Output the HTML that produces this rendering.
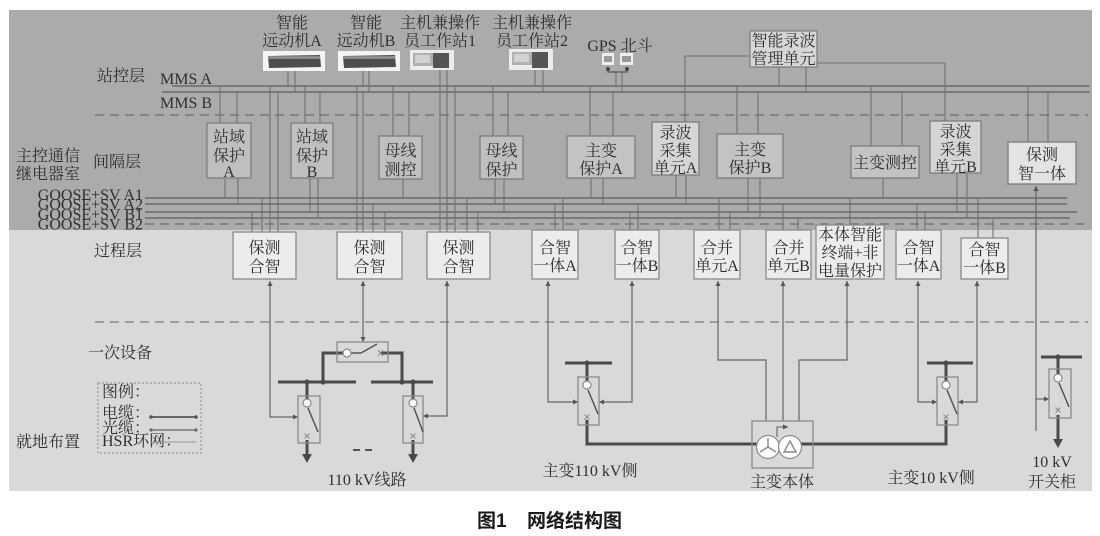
<!DOCTYPE html>
<html><head><meta charset="utf-8"><style>
html,body{margin:0;padding:0;background:#fff;}
svg{display:block;}
text{font-family:"Liberation Serif","Noto Serif CJK SC","Noto Serif CJK","Noto Sans CJK SC",serif;fill:#2f2f2f;font-size:16px;}
.m{text-anchor:middle;}
</style></head><body>
<svg width="1100" height="536" viewBox="0 0 1100 536" xmlns="http://www.w3.org/2000/svg">
<defs>
<marker id="a" viewBox="0 0 6 6" refX="6" refY="3" markerWidth="5" markerHeight="5" markerUnits="userSpaceOnUse" orient="auto-start-reverse"><path d="M0,0L6,3L0,6z" fill="#555"/></marker>
</defs>
<rect x="0" y="0" width="1100" height="536" fill="#fff"/>
<rect x="9" y="10" width="1083" height="220" fill="#ababab"/>
<rect x="9" y="230" width="1083" height="261" fill="#d9d9d9"/>

<line x1="95" y1="115" x2="1088" y2="115" stroke="#777" stroke-width="1.5" stroke-dasharray="9,6"/>
<line x1="145" y1="224" x2="1088" y2="224" stroke="#777" stroke-width="1.5" stroke-dasharray="9,6"/>
<line x1="95" y1="322" x2="1088" y2="322" stroke="#8a8a8a" stroke-width="1.5" stroke-dasharray="9,6"/>

<line x1="172" y1="86" x2="1090" y2="86" stroke="#6a6a6a" stroke-width="1.6"/>
<line x1="162" y1="92" x2="1090" y2="92" stroke="#6a6a6a" stroke-width="1.6"/>
<line x1="145" y1="198" x2="1067" y2="198" stroke="#6a6a6a" stroke-width="1.6"/>
<line x1="145" y1="204" x2="1067" y2="204" stroke="#6a6a6a" stroke-width="1.6"/>
<line x1="145" y1="212" x2="1077" y2="212" stroke="#6a6a6a" stroke-width="1.6"/>
<line x1="145" y1="218" x2="1070" y2="218" stroke="#6a6a6a" stroke-width="1.6"/>

<path fill="none" stroke="#717171" stroke-width="1.1" d="
M288 71V86 M295 71V92 M363 71V86 M369 71V92
M440 70V232 M447 70V232 M455 86V232
M535 70V86 M543 70V92 M616 72V86 M622 72V92
M779 67V86 M806 67V92
M750 56H685V122 M817 63H945V121
M220 86V123 M237 92V123 M305 86V123 M320 92V123
M393 86V136 M409 92V136 M493 86V136 M508 92V136
M590 86V136 M613 92V136 M737 86V134 M758 92V134
M871 86V146 M902 92V146 M1028 86V142 M1048 92V142
M225 178V198 M238 178V204 M310 178V212 M318 178V218
M403 179V198 M495 179V204 M504 179V212
M591 178V198 M603 178V204 M676 175V198 M686 175V204
M748 178V212 M760 178V218 M883 178V198 M957 173V212 M967 173V218
M270 86V233 M278 92V233 M252 212V233 M262 198V233
M357 86V233 M363 92V233 M373 204V233 M385 212V233
M467 198V233 M478 212V233
M555 204V230 M563 198V230 M630 212V230 M638 204V230
M719 198V230 M730 212V230 M783 204V230 M798 218V230
M850 198V225 M917 204V230 M925 212V230 M978 198V238 M993 218V238"/>

<rect x="263" y="51" width="62" height="20" fill="#f4f4f4"/>
<path d="M268 56L320 55L321 67L269 68Z" fill="#4d4d4d"/>
<rect x="268" y="56" width="52" height="3" fill="#8a8a8a"/>
<rect x="338" y="51" width="62" height="20" fill="#f4f4f4"/>
<path d="M343 56L395 55L396 67L344 68Z" fill="#4d4d4d"/>
<rect x="343" y="56" width="52" height="3" fill="#8a8a8a"/>
<rect x="410" y="50" width="44" height="20" fill="#ececec"/>
<rect x="413" y="53" width="20" height="13" fill="#b0b0b0"/>
<rect x="415" y="55" width="15" height="8" fill="#d2d2d2"/>
<rect x="433" y="53" width="16" height="15" fill="#555"/>
<rect x="509" y="49" width="44" height="21" fill="#ececec"/>
<rect x="512" y="52" width="20" height="13" fill="#b0b0b0"/>
<rect x="514" y="54" width="15" height="8" fill="#d2d2d2"/>
<rect x="532" y="52" width="16" height="16" fill="#555"/>
<rect x="602" y="53" width="12" height="12" fill="#eee"/>
<rect x="604" y="56" width="8" height="6" fill="#999"/>
<rect x="620" y="53" width="13" height="12" fill="#eee"/>
<rect x="622" y="56" width="9" height="6" fill="#999"/>
<path d="M608 70V72H627V70" fill="none" stroke="#555" stroke-width="1.2"/>
<circle cx="608" cy="69" r="2" fill="#444"/><circle cx="627" cy="69" r="2" fill="#444"/>
<rect x="750" y="31" width="67" height="36" fill="#d6d6d6" stroke="#808080" stroke-width="1.3"/>

<g stroke="#7d7d7d" stroke-width="1.3">
<rect x="207" y="123" width="44" height="55" fill="#bfbfbf"/>
<rect x="291" y="123" width="42" height="55" fill="#bfbfbf"/>
<rect x="379" y="136" width="43" height="43" fill="#bfbfbf"/>
<rect x="480" y="136" width="43" height="43" fill="#bfbfbf"/>
<rect x="567" y="136" width="68" height="42" fill="#c3c3c3"/>
<rect x="652" y="122" width="47" height="53" fill="#d5d5d5"/>
<rect x="717" y="134" width="66" height="44" fill="#c3c3c3"/>
<rect x="851" y="146" width="68" height="32" fill="#c3c3c3"/>
<rect x="930" y="121" width="51" height="52" fill="#d5d5d5"/>
<rect x="1008" y="142" width="68" height="42" fill="#e3e3e3"/>
</g>
<g stroke="#8a8a8a" stroke-width="1.3" fill="#ececec">
<rect x="233" y="232" width="63" height="47"/>
<rect x="337" y="232" width="65" height="47"/>
<rect x="427" y="232" width="63" height="47"/>
<rect x="532" y="230" width="46" height="49"/>
<rect x="615" y="230" width="44" height="49"/>
<rect x="694" y="230" width="46" height="49"/>
<rect x="766" y="230" width="45" height="49"/>
<rect x="816" y="225" width="68" height="54"/>
<rect x="896" y="230" width="45" height="49"/>
<rect x="961" y="238" width="47" height="41"/>
</g>

<text class="m" x="292" y="28" font-size="15.5">智能</text>
<text class="m" x="292" y="46" font-size="15.5">远动机A</text>
<text class="m" x="366" y="28" font-size="15.5">智能</text>
<text class="m" x="366" y="46" font-size="15.5">远动机B</text>
<text class="m" x="440" y="28">主机兼操作</text>
<text class="m" x="440" y="46">员工作站1</text>
<text class="m" x="532" y="28">主机兼操作</text>
<text class="m" x="532" y="46">员工作站2</text>
<text class="m" x="620" y="51">GPS 北斗</text>
<text class="m" x="783.5" y="46">智能录波</text>
<text class="m" x="783.5" y="64">管理单元</text>

<text x="97" y="81" font-size="15.5">站控层</text>
<text x="160" y="84" font-size="15">MMS A</text>
<text x="160" y="108" font-size="15">MMS B</text>
<text x="16" y="161">主控通信</text>
<text x="16" y="179">继电器室</text>
<text x="93" y="167">间隔层</text>
<text x="143" y="200" text-anchor="end">GOOSE+SV A1</text>
<text x="143" y="209.5" text-anchor="end">GOOSE+SV A2</text>
<text x="143" y="219.5" text-anchor="end">GOOSE+SV B1</text>
<text x="143" y="229.5" text-anchor="end">GOOSE+SV B2</text>
<text x="94" y="256">过程层</text>
<text x="88" y="358">一次设备</text>
<text x="16" y="447">就地布置</text>

<text class="m" x="229" y="142">站域</text><text class="m" x="229" y="161">保护</text><text class="m" x="229" y="177">A</text>
<text class="m" x="312" y="142">站域</text><text class="m" x="312" y="161">保护</text><text class="m" x="312" y="177">B</text>
<text class="m" x="400.5" y="156">母线</text><text class="m" x="400.5" y="175">测控</text>
<text class="m" x="501.5" y="156">母线</text><text class="m" x="501.5" y="175">保护</text>
<text class="m" x="601" y="156">主变</text><text class="m" x="601" y="174">保护A</text>
<text class="m" x="675.5" y="138">录波</text><text class="m" x="675.5" y="156">采集</text><text class="m" x="675.5" y="173">单元A</text>
<text class="m" x="750" y="155">主变</text><text class="m" x="750" y="173">保护B</text>
<text class="m" x="885" y="168">主变测控</text>
<text class="m" x="955.5" y="137">录波</text><text class="m" x="955.5" y="155">采集</text><text class="m" x="955.5" y="172">单元B</text>
<text class="m" x="1042" y="160">保测</text><text class="m" x="1042" y="179">智一体</text>

<text class="m" x="264.5" y="253">保测</text><text class="m" x="264.5" y="272">合智</text>
<text class="m" x="369.5" y="253">保测</text><text class="m" x="369.5" y="272">合智</text>
<text class="m" x="458.5" y="253">保测</text><text class="m" x="458.5" y="272">合智</text>
<text class="m" x="555" y="253">合智</text><text class="m" x="555" y="271">一体A</text>
<text class="m" x="637" y="253">合智</text><text class="m" x="637" y="271">一体B</text>
<text class="m" x="717" y="253">合并</text><text class="m" x="717" y="271">单元A</text>
<text class="m" x="788.5" y="253">合并</text><text class="m" x="788.5" y="271">单元B</text>
<text class="m" x="850" y="240">本体智能</text><text class="m" x="850" y="258">终端+非</text><text class="m" x="850" y="276">电量保护</text>
<text class="m" x="918.5" y="253">合智</text><text class="m" x="918.5" y="271">一体A</text>
<text class="m" x="984.5" y="255">合智</text><text class="m" x="984.5" y="273">一体B</text>

<g fill="none" stroke="#666" stroke-width="1.2">
<path d="M270 281V417H298" marker-start="url(#a)" marker-end="url(#a)"/>
<path d="M363 281V342" marker-start="url(#a)" marker-end="url(#a)"/>
<path d="M447 281V416H423" marker-start="url(#a)" marker-end="url(#a)"/>
<path d="M548 281V402H578" marker-start="url(#a)" marker-end="url(#a)"/>
<path d="M632 281V402H599" marker-start="url(#a)" marker-end="url(#a)"/>
<path d="M718 281V360H766V421" marker-start="url(#a)"/>
<path d="M783 281V421" marker-start="url(#a)"/>
<path d="M847 281V360H799V421" marker-start="url(#a)"/>
<path d="M918 281V402H937" marker-start="url(#a)" marker-end="url(#a)"/>
<path d="M977 281V402H958" marker-start="url(#a)" marker-end="url(#a)"/>
<path d="M1036 186V431" marker-start="url(#a)"/>
<path d="M1036 399H1049" marker-end="url(#a)"/>
</g>

<g fill="none" stroke="#4a4a4a" stroke-width="3">
<path d="M278 382H356 M371 382H433 M565 363H612 M927 363H973 M1041 357H1082"/>
<path d="M323 382V353H343 M381 353H402V382"/>
<path d="M307 382V399 M413 382V399 M587 363V381 M946 363V381 M1058 357V374"/>
<path d="M307 440V456 M413 440V456 M1058 415V440"/>
<path d="M587 420V444H757 M801 444H946V420"/>
</g>
<g fill="#4a4a4a">
<polygon points="302,454 312,454 307,463"/>
<polygon points="408,454 418,454 413,463"/>
<polygon points="1053,439 1063,439 1058,448"/>
<circle cx="307" cy="382" r="2.6"/><circle cx="323" cy="382" r="2.6"/>
<circle cx="402" cy="382" r="2.6"/><circle cx="413" cy="382" r="2.6"/>
<circle cx="587" cy="363" r="2.6"/><circle cx="946" cy="363" r="2.6"/><circle cx="1058" cy="357" r="2.6"/>
</g>
<g fill="none" stroke="#8a8a8a" stroke-width="1.3">
<rect x="337" y="342" width="51" height="20"/>
<rect x="298" y="396" width="22" height="47"/>
<rect x="403" y="396" width="20" height="47"/>
<rect x="578" y="377" width="21" height="48"/>
<rect x="937" y="377" width="21" height="48"/>
<rect x="1049" y="369" width="22" height="49"/>
<rect x="752" y="421" width="61" height="47"/>
</g>
<g fill="none" stroke="#555" stroke-width="1.5">
<path d="M351 353H361L377 344"/>
<path d="M308 408L318 432 M414 408L423 432 M588 390L598 414 M947 390L957 414 M1059 383L1069 407"/>
</g>
<g fill="none" stroke="#888" stroke-width="1">
<path d="M378 350L383 356M383 350L378 356"/>
<path d="M304.5 433.5L309.5 438.5M309.5 433.5L304.5 438.5"/>
<path d="M410.5 433.5L415.5 438.5M415.5 433.5L410.5 438.5"/>
<path d="M584.5 414.5L589.5 419.5M589.5 414.5L584.5 419.5"/>
<path d="M943.5 414.5L948.5 419.5M948.5 414.5L943.5 419.5"/>
<path d="M1055.5 407.5L1060.5 412.5M1060.5 407.5L1055.5 412.5"/>
</g>
<g fill="#fff" stroke="#8a8a8a" stroke-width="1.2">
<circle cx="347" cy="353" r="4"/>
<circle cx="307" cy="403" r="4"/>
<circle cx="413" cy="403" r="4"/>
<circle cx="587" cy="385" r="4"/>
<circle cx="946" cy="385" r="4"/>
<circle cx="1058" cy="378" r="4"/>
<circle cx="768" cy="447" r="11.5"/>
<circle cx="790" cy="447" r="11.5"/>
</g>
<g fill="none" stroke="#8a8a8a" stroke-width="1.4">
<path d="M768 447V438 M768 447L760 452 M768 447L776 452"/>
<path d="M790 441L784 452H796Z"/>
</g>
<path d="M777 437V427H788" fill="none" stroke="#777" stroke-width="1.3" marker-end="url(#a)"/>
<path d="M353 450H360 M365 450H372" stroke="#555" stroke-width="2"/>

<rect x="98" y="383" width="103" height="70" fill="none" stroke="#999" stroke-width="1.2" stroke-dasharray="2,2"/>
<text x="102" y="397" font-size="12">图例：</text>
<text x="102" y="418" font-size="12">电缆：</text>
<text x="102" y="433" font-size="12">光缆：</text>
<text x="102" y="446" font-size="12">HSR环网：</text>
<line x1="151" y1="417" x2="196" y2="417" stroke="#555" stroke-width="1.8"/>
<circle cx="151" cy="417" r="1.8" fill="#555"/><circle cx="196" cy="417" r="1.8" fill="#555"/>
<line x1="151" y1="430" x2="196" y2="430" stroke="#666" stroke-width="1.3"/>
<circle cx="151" cy="430" r="1.6" fill="#666"/><circle cx="196" cy="430" r="1.6" fill="#666"/>
<line x1="150" y1="442" x2="196" y2="442" stroke="#999" stroke-width="1"/>

<text class="m" x="367" y="485">110 kV线路</text>
<text class="m" x="590" y="476">主变110 kV侧</text>
<text class="m" x="782" y="487">主变本体</text>
<text class="m" x="931" y="483">主变10 kV侧</text>
<text class="m" x="1052" y="467">10 kV</text>
<text class="m" x="1052" y="487">开关柜</text>

<text x="477" y="527" style="font-family:'Liberation Sans','Noto Sans CJK SC',sans-serif;font-size:19px;font-weight:bold;fill:#1a1a1a;">图1</text>
<text x="527" y="527" style="font-family:'Liberation Sans','Noto Sans CJK SC',sans-serif;font-size:19px;font-weight:bold;fill:#1a1a1a;">网络结构图</text>
</svg>
</body></html>
